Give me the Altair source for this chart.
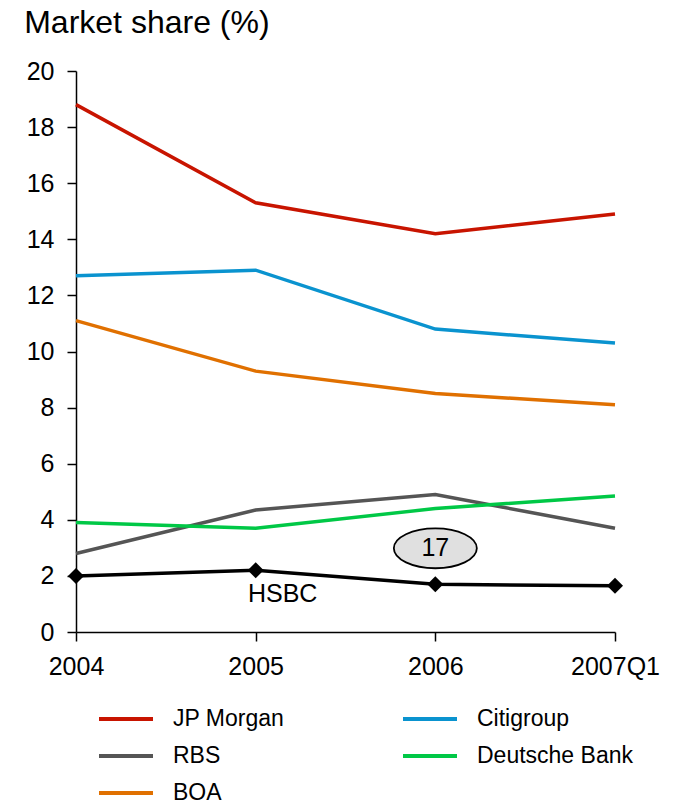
import altair as alt
import pandas as pd

periods = ["2004", "2005", "2006", "2007Q1"]
jp_morgan = [18.8, 15.3, 14.2, 14.9]
citigroup = [12.7, 12.9, 10.8, 10.3]
boa = [11.1, 9.3, 8.5, 8.1]
rbs = [2.8, 4.35, 4.9, 3.7]
deutsche_bank = [3.9, 3.7, 4.4, 4.85]
hsbc = [2.0, 2.2, 1.7, 1.65]

series_names = ["JP Morgan", "RBS", "BOA", "Citigroup", "Deutsche Bank"]
series_values = [jp_morgan, rbs, boa, citigroup, deutsche_bank]
series_colors = ["#c81400", "#555555", "#e07000", "#0a93cf", "#00c846"]

hsbc_name = "HSBC"
hsbc_rank = "17"
y_ticks = [0, 2, 4, 6, 8, 10, 12, 14, 16, 18, 20]

FONT = "Liberation Sans"

rows = []
for name, vals in zip(series_names, series_values):
    for p, v in zip(periods, vals):
        rows.append({"period": p, "bank": name, "share": v})
df = pd.DataFrame(rows)
hsbc_df = pd.DataFrame({"period": periods, "share": hsbc, "bank": hsbc_name})

x_enc = alt.X(
    "period:O",
    sort=periods,
    scale=alt.Scale(type="point", padding=0),
    axis=alt.Axis(
        title=None, labelAngle=0, labelFont=FONT, labelFontSize=25,
        labelColor="black", labelPadding=13, tickSize=9, tickColor="black",
        domainColor="black", tickWidth=1.5, domainWidth=1.5,
    ),
)
y_enc = alt.Y(
    "share:Q",
    scale=alt.Scale(domain=[0, 20], nice=False),
    axis=alt.Axis(
        title=None, values=y_ticks, labelFont=FONT, labelFontSize=25,
        labelColor="black", labelPadding=13, tickSize=9, tickColor="black",
        domainColor="black", grid=False, tickWidth=1.5, domainWidth=1.5,
    ),
)

lines = alt.Chart(df).mark_line(strokeWidth=3.5).encode(
    x=x_enc,
    y=y_enc,
    color=alt.Color(
        "bank:N",
        scale=alt.Scale(domain=series_names, range=series_colors),
        legend=alt.Legend(
            title=None, orient="none", legendX=21, legendY=637, columns=2,
            symbolType="stroke", symbolSize=2916, symbolStrokeWidth=4,
            labelFont=FONT, labelFontSize=23, labelColor="black",
            labelOffset=18, columnPadding=116, rowPadding=14, padding=0,
            labelLimit=300, clipHeight=22,
        ),
    ),
)

hsbc_line = alt.Chart(hsbc_df).mark_line(strokeWidth=3.5, color="black").encode(
    x=alt.X("period:O", sort=periods), y="share:Q"
)
hsbc_pts = alt.Chart(hsbc_df).mark_point(
    shape="diamond", size=256, filled=True, color="black", opacity=1
).encode(x=alt.X("period:O", sort=periods), y="share:Q")

hsbc_label = alt.Chart(hsbc_df).transform_filter(
    alt.datum.period == periods[1]
).mark_text(
    font=FONT, fontSize=25, color="black", dx=27, dy=24, baseline="middle"
).encode(x=alt.X("period:O", sort=periods), y="share:Q", text="bank:N")

ellipse_path = "M -1 0 A 1 0.48 0 1 1 1 0 A 1 0.48 0 1 1 -1 0 Z"
rank_df = pd.DataFrame({"period": [periods[2]], "share": [hsbc[2]], "rank": [hsbc_rank]})
rank_shape = alt.Chart(rank_df).mark_point(
    shape=ellipse_path, size=83 * 83, fill="#e0e0e0", stroke="black",
    strokeWidth=1.8, opacity=1, fillOpacity=1, yOffset=-36,
).encode(x=alt.X("period:O", sort=periods), y="share:Q")
rank_text = alt.Chart(rank_df).mark_text(
    font=FONT, fontSize=25, color="black", dy=-36, baseline="middle"
).encode(x=alt.X("period:O", sort=periods), y="share:Q", text="rank:N")

chart = alt.layer(lines, hsbc_line, hsbc_pts, hsbc_label, rank_shape, rank_text).properties(
    width=539,
    height=561,
    autosize=alt.AutoSizeParams(type="none"),
    padding={"left": 68, "top": 63, "right": 50, "bottom": 168},
    title=alt.TitleParams(
        "Market share (%)", anchor="start", font=FONT, fontSize=32,
        fontWeight="normal", color="black", dx=-2, offset=19,
    ),
).configure_view(stroke=None)

chart.save("out.html", embed_options={"renderer": "svg", "actions": False})
